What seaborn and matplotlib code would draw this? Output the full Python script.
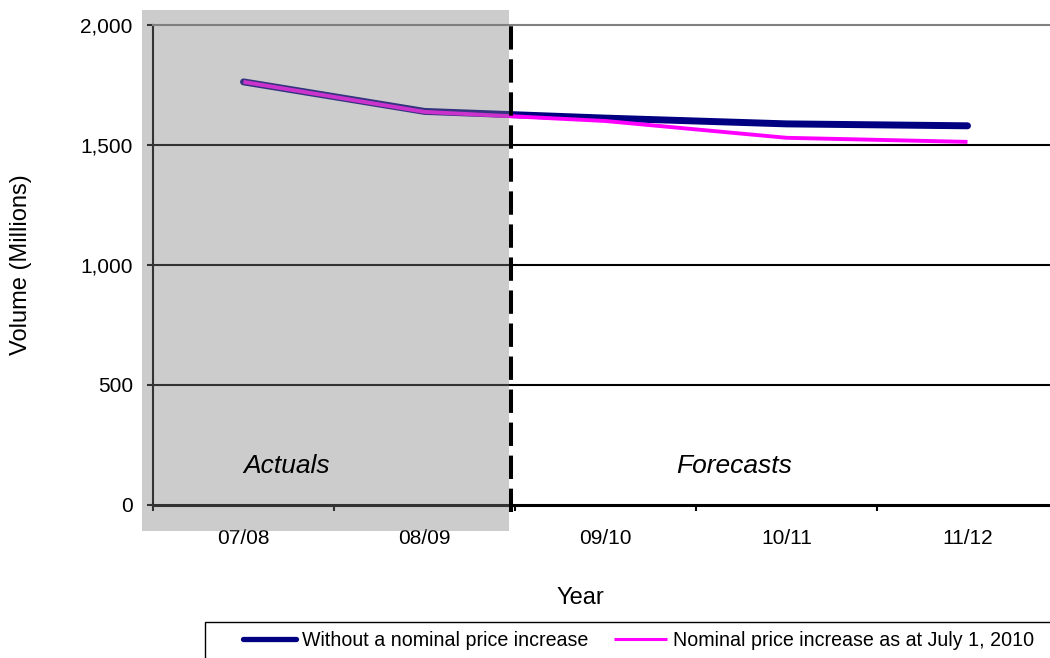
import matplotlib
matplotlib.use("Agg")
import matplotlib.pyplot as plt
from matplotlib.lines import Line2D
from matplotlib.patches import Rectangle
import pandas as pd
import seaborn as sns

# Volumes in millions by fiscal year
years = ["07/08", "08/09", "09/10", "10/11", "11/12"]
no_increase = [1763, 1640, 1612, 1588, 1580]
with_increase = [1763, 1638, 1600, 1530, 1513]
series_names = ["Without a nominal price increase",
                "Nominal price increase as at July 1, 2010"]
series_colors = ["#000080", "#FF00FF"]
y_ticks = [0, 500, 1000, 1500, 2000]

sns.set_style("ticks")
plt.rcParams["font.family"] = ["Liberation Sans", "DejaVu Sans"]
plt.rcParams.update({"text.color": "black", "axes.labelcolor": "black",
                     "xtick.color": "black", "ytick.color": "black"})

df = pd.DataFrame({
    "Year": years * 2,
    "Volume": no_increase + with_increase,
    "Series": [series_names[0]] * len(years) + [series_names[1]] * len(years),
})

W, H = 1050, 658
fig = plt.figure(figsize=(W / 100, H / 100), dpi=100)
ax = fig.add_axes([153 / W, 1 - 505 / H, 905 / W, 480 / H])

sns.lineplot(data=df, x="Year", y="Volume", hue="Series", hue_order=series_names,
             palette=series_colors, ax=ax, legend=False, sort=False)
ax.lines[0].set_linewidth(5.0)
ax.lines[0].set_solid_capstyle("round")
ax.lines[1].set_linewidth(2.8)
ax.lines[1].set_solid_capstyle("butt")
for ln in ax.lines:
    ln.set_zorder(3)

ax.set_xlim(-0.5, len(years) - 0.5)
ax.set_ylim(y_ticks[0], y_ticks[-1])

# horizontal gridlines
for v in y_ticks[1:-1]:
    ax.axhline(v, color="black", lw=1.5, zorder=1)

ax.set_yticks(y_ticks)
ax.set_yticklabels([f"{v:,}" for v in y_ticks], fontsize=15)
ax.set_xticks(range(len(years)))
ax.set_xticklabels(years, fontsize=15)
ax.set_xticks([i - 0.5 for i in range(len(years) + 1)], minor=True)
ax.tick_params(axis="x", which="major", length=0, pad=17)
ax.tick_params(axis="x", which="minor", length=4, width=1.5, color="black", direction="out")
ax.tick_params(axis="y", which="major", length=4, width=1.5, color="black", pad=10.5, direction="out")

for s in ["left", "bottom"]:
    ax.spines[s].set_color("black")
ax.spines["left"].set_linewidth(1.5)
ax.spines["bottom"].set_linewidth(2.2)
ax.spines["top"].set_visible(True)
ax.spines["top"].set_color("#808080")
ax.spines["top"].set_linewidth(1.5)
ax.spines["right"].set_visible(False)

ax.set_xlabel("Year", fontsize=17)
ax.set_ylabel("Volume (Millions)", fontsize=17)
ax.xaxis.set_label_coords((580 - 153) / 905, (505 - 587) / 480)
ax.yaxis.set_label_coords((32 - 153) / 905, 0.5)

# divider between actuals and forecasts
ax.axvline(1.48, ymin=-0.015, ymax=0.998, color="black", lw=2.9,
           ls=(0, (5.8, 2.4)), clip_on=False, zorder=6)

# shaded actuals region
fig.add_artist(Rectangle((142 / W, 1 - 531 / H), 367 / W, 521 / H,
                         transform=fig.transFigure, facecolor=(0.5, 0.5, 0.5),
                         alpha=0.4, edgecolor="none", zorder=3))

fig.text((287 - 153) / 905, (505 - 466) / 480, "Actuals", transform=ax.transAxes,
         style="italic", fontsize=19, ha="center", va="center", zorder=5)
fig.text((734 - 153) / 905, (505 - 466) / 480, "Forecasts", transform=ax.transAxes,
         style="italic", fontsize=19, ha="center", va="center", zorder=5)

# legend
handles = [
    Line2D([], [], color=series_colors[0], lw=3.8, solid_capstyle="round"),
    Line2D([], [], color=series_colors[1], lw=2.2, solid_capstyle="butt"),
]
ax.legend(handles, series_names, loc="center left",
          bbox_to_anchor=(243 / W, 1 - 640 / H), bbox_transform=fig.transFigure,
          ncol=2, frameon=False, handlelength=2.7, handletextpad=0.3,
          columnspacing=1.35, borderpad=0, borderaxespad=0, fontsize=14.1)
fig.add_artist(Rectangle((205 / W, 1 - 672 / H), 855 / W, 50 / H,
                         transform=fig.transFigure, fill=False,
                         edgecolor="black", lw=1.0, zorder=4))

fig.savefig("out.png", dpi=100)
